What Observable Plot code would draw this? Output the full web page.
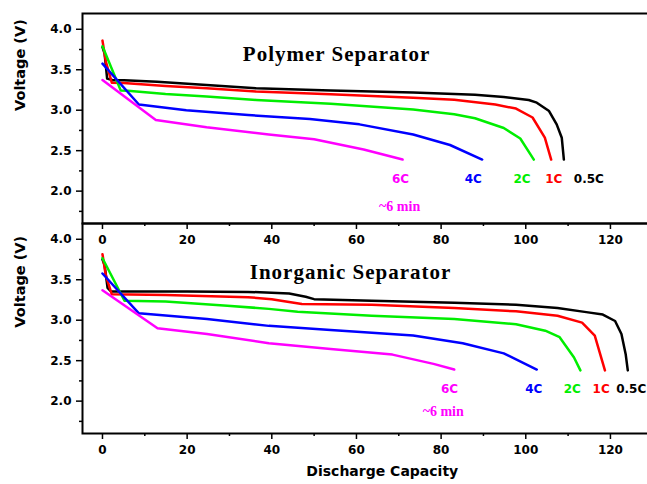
<!DOCTYPE html>
<html><head><meta charset="utf-8">
<script src="https://cdn.jsdelivr.net/npm/d3@7"></script>
<script src="https://cdn.jsdelivr.net/npm/@observablehq/plot@0.6"></script>
<style>html,body{margin:0;padding:0;background:#fff;overflow:hidden;width:647px;height:484px}#chart svg{max-width:none !important}</style>
</head><body><div id="chart"></div>
<script>
const panels = ["Polymer Separator", "Inorganic Separator"];
const rates = ["0.5C", "1C", "2C", "4C", "6C"];
const rateColors = ["#000000", "#ff0000", "#00ee00", "#0000ff", "#ff00ff"];

// Polymer separator curves: [capacity, voltage]
const polymer05C = [[0,3.78],[0.5,3.70],[1.1,3.39],[2.5,3.37],[5.1,3.37],[12.9,3.353],[24.6,3.31],[36.3,3.27],[53.9,3.245],[73.4,3.22],[88,3.19],[94.8,3.163],[100.7,3.126],[102.6,3.093],[105.5,2.99],[107.3,2.825],[108.5,2.66],[109,2.39]];
const polymer1C = [[0,3.86],[0.8,3.6],[2.2,3.34],[5,3.335],[14.9,3.30],[24.6,3.27],[36.3,3.23],[53.9,3.196],[73.4,3.155],[83.1,3.13],[92.8,3.07],[97.7,3.02],[101.6,2.91],[104.5,2.66],[106,2.39]];
const polymer2C = [[0,3.79],[4.3,3.245],[6,3.24],[14.9,3.20],[24.6,3.17],[36.3,3.126],[53.9,3.08],[73.4,3.01],[83.1,2.95],[88,2.90],[94.8,2.78],[98.7,2.65],[101.9,2.39]];
const polymer4C = [[0,3.575],[8.6,3.07],[19.8,3.00],[34.4,2.94],[49,2.89],[60.7,2.825],[73.4,2.70],[82.1,2.57],[89.7,2.39]];
const polymer6C = [[0,3.373],[12.6,2.878],[24.6,2.79],[39.3,2.70],[50,2.64],[61.7,2.515],[70.9,2.39]];

// Inorganic separator curves: [capacity, voltage]
const inorganic05C = [[0,3.75],[0.5,3.68],[1.2,3.40],[2,3.355],[20,3.355],[34.4,3.35],[44.1,3.33],[48,3.29],[50,3.26],[63.6,3.24],[83.1,3.216],[97.7,3.19],[107.5,3.15],[114.3,3.10],[118.2,3.07],[121.1,2.99],[122.6,2.83],[123.6,2.58],[124.1,2.38]];
const inorganic1C = [[0,3.815],[0.8,3.55],[2.2,3.32],[14.9,3.31],[34.4,3.285],[40,3.26],[42.2,3.24],[47.1,3.20],[63.6,3.19],[83.1,3.15],[97.7,3.11],[107.5,3.056],[113.3,2.97],[116.3,2.81],[118.7,2.38]];
const inorganic2C = [[0,3.766],[5.2,3.24],[14.9,3.23],[29.5,3.18],[39.3,3.14],[46.1,3.105],[63.6,3.056],[83.1,3.015],[97.7,2.95],[104.6,2.87],[108,2.79],[111.4,2.54],[112.9,2.38]];
const inorganic4C = [[0,3.577],[8.6,3.085],[24.7,3.015],[39.3,2.93],[53.9,2.88],[73.4,2.81],[85.1,2.715],[94.8,2.59],[102.6,2.39]];
const inorganic6C = [[0,3.37],[13,2.90],[24.7,2.83],[39.3,2.715],[53.9,2.645],[68.5,2.575],[78.2,2.46],[83.1,2.39]];

// rate label positions [capacity] and voltage level
const polymerLabelCap = [114.9, 106.6, 99.1, 87.6, 70.4];
const polymerLabelVolt = 2.145;
const inorganicLabelCap = [124.9, 117.8, 111.0, 101.9, 82.0];
const inorganicLabelVolt = 2.153;
const minLabel = ["~6 min", "~6 min"];
const minLabelCap = [70.2, 80.5];
const minLabelVolt = [1.815, 1.873];
const titleCap = [55.3, 58.6];
const titleVolt = [3.695, 3.589];

const xMajor = [0, 20, 40, 60, 80, 100, 120];
const xMinor = [10, 30, 50, 70, 90, 110, 130];
const yMajor = [2.0, 2.5, 3.0, 3.5, 4.0];
const yMinor = [1.75, 2.25, 2.75, 3.25, 3.75];

const curves = [
  [panels[0], [polymer05C, polymer1C, polymer2C, polymer4C, polymer6C]],
  [panels[1], [inorganic05C, inorganic1C, inorganic2C, inorganic4C, inorganic6C]]
];
const rows = [];
for (const [panel, list] of curves) {
  list.forEach((pts, i) => pts.forEach(([cap, volt]) => rows.push({panel, rate: rates[i], cap, volt})));
}
const labelRows = [];
rates.forEach((r, i) => {
  labelRows.push({panel: panels[0], rate: r, cap: polymerLabelCap[i], volt: polymerLabelVolt});
  labelRows.push({panel: panels[1], rate: r, cap: inorganicLabelCap[i], volt: inorganicLabelVolt});
});
const minRows = panels.map((p, i) => ({panel: p, text: minLabel[i], cap: minLabelCap[i], volt: minLabelVolt[i]}));
const titleRows = panels.map((p, i) => ({panel: p, text: p, cap: titleCap[i], volt: titleVolt[i]}));
const yTitleRows = [{panel: panels[0], volt: 2.99}, {panel: panels[1], volt: 2.908}];
const xTitleRows = [{panel: panels[1], cap: 66.1, text: "Discharge Capacity"}];

const chart = Plot.plot({
  width: 662, height: 484,
  marginLeft: 82, marginRight: 0, marginTop: 12.7, marginBottom: 50.7,
  x: {domain: [-4.72, 132.3]},
  y: {domain: [1.6, 4.195]},
  fy: {domain: panels, axis: null, padding: 0},
  color: {domain: rates, range: rateColors},
  style: {fontFamily: "DejaVu Sans", fontSize: "12px", fontWeight: "bold", color: "black", background: "white", maxWidth: "none"},
  marks: [
    Plot.axisX({ticks: xMajor, tickSize: 6, tickPadding: 6, tickFormat: d => d, label: null, facetAnchor: null, strokeWidth: 1.5}),
    Plot.axisX({ticks: xMinor, tickSize: 3, tickFormat: () => "", label: null, facetAnchor: null, strokeWidth: 1.5}),
    Plot.axisY({ticks: yMajor, tickSize: 6, tickPadding: 5, tickFormat: ".1f", label: null, strokeWidth: 1.5}),
    Plot.axisY({ticks: yMinor, tickSize: 3, tickFormat: () => "", label: null, strokeWidth: 1.5}),
    Plot.frame({stroke: "black", strokeWidth: 2}),
    Plot.line(rows, {x: "cap", y: "volt", z: "rate", stroke: "rate", fy: "panel", strokeWidth: 2.5}),
    Plot.text(labelRows, {x: "cap", y: "volt", text: "rate", fill: "rate", fy: "panel", fontSize: 12, fontWeight: "bold"}),
    Plot.text(minRows, {x: "cap", y: "volt", text: "text", fy: "panel", fill: "#ff00ff", fontFamily: "Liberation Serif", fontSize: 14, fontWeight: "bold"}),
    Plot.text(titleRows, {x: "cap", y: "volt", text: "text", fy: "panel", fill: "black", fontFamily: "Liberation Serif", fontSize: 21, fontWeight: "bold"}),
    Plot.text(yTitleRows, {y: "volt", text: () => "Voltage (V)", fy: "panel", frameAnchor: "left", dx: -62, rotate: -90, fontSize: 14.5, fontWeight: "bold", fill: "black"}),
    Plot.text(xTitleRows, {x: "cap", text: "text", fy: "panel", frameAnchor: "bottom", dy: 42, fontSize: 14, fontWeight: "bold", fill: "black"})
  ]
});
chart.style.maxWidth = "none";
d3.select(chart).selectAll("text").filter(function() { return /Separator/.test(this.textContent); }).attr("letter-spacing", "1px");
document.getElementById("chart").appendChild(chart);
</script>
</body></html>
